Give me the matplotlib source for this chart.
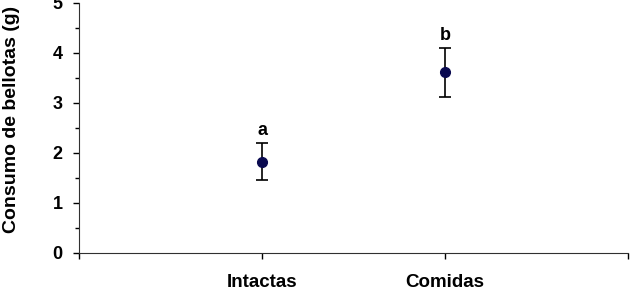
import matplotlib.pyplot as plt
from matplotlib.ticker import MultipleLocator

# data
categories = ["Intactas", "Comidas"]
means = [1.82, 3.61]
err_low = [0.37, 0.50]
err_high = [0.37, 0.48]
letters = ["a", "b"]

plt.rcParams["font.family"] = ["Liberation Sans", "DejaVu Sans"]
plt.rcParams["font.weight"] = "bold"

fig = plt.figure(figsize=(6.33, 2.95), dpi=100)
ax = fig.add_axes([0.125, 0.143, 0.867, 0.847])

x = [1, 2]
ax.errorbar(x, means, yerr=[err_low, err_high], fmt="o", color="#0a0a50",
            markersize=7, ecolor="black", elinewidth=1.2, capsize=4.5,
            capthick=1.2, zorder=3)

for xi, m, hi, lab in zip(x, means, err_high, letters):
    ax.text(xi, m + hi + 0.08, lab, ha="center", va="bottom", fontsize=13,
            fontweight="bold")

ax.set_xlim(0, 3)
ax.set_ylim(0, 5)
ax.set_xticks([0, 1, 2, 3])
ax.set_xticklabels(["", categories[0], categories[1], ""])
ax.yaxis.set_major_locator(MultipleLocator(1))
ax.yaxis.set_minor_locator(MultipleLocator(0.5))
ax.tick_params(axis="x", direction="out", length=4, width=1, pad=11, labelsize=13.5)
ax.tick_params(axis="y", which="major", direction="out", length=4, width=1, pad=8, labelsize=13)
ax.tick_params(axis="y", which="minor", direction="out", length=3, width=1)
for lbl in ax.get_xticklabels() + ax.get_yticklabels():
    lbl.set_fontweight("bold")

ax.spines["top"].set_visible(False)
ax.spines["right"].set_visible(False)
ax.spines["left"].set_color("#303030")
ax.spines["bottom"].set_color("#303030")

ax.set_ylabel("Consumo de bellotas (g)", fontsize=14, fontweight="bold")
ax.yaxis.set_label_coords(-0.107, 0.532)

fig.savefig("out.png", dpi=100)
